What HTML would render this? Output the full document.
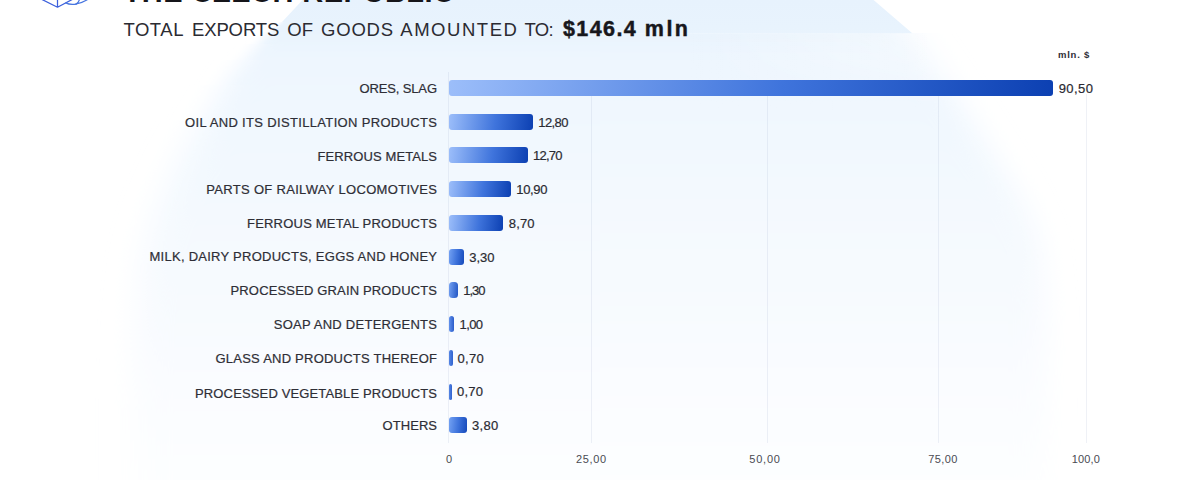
<!DOCTYPE html>
<html lang="en">
<head>
<meta charset="utf-8">
<title>The Czech Republic - exports of goods</title>
<style>
html,body{margin:0;padding:0;background:#fff;}
body{width:1200px;height:480px;position:relative;overflow:hidden;font-family:"Liberation Sans",sans-serif;color:#2e2e36;}
#bg{position:absolute;left:0;top:0;width:1200px;height:480px;}
.t{position:absolute;white-space:nowrap;line-height:1;margin:0;font-weight:normal;}
.lab{font-size:13px;color:#2e2e36;-webkit-text-stroke:0.2px #2e2e36;}
.val{font-size:13px;color:#2a2a31;-webkit-text-stroke:0.2px #2a2a31;}
.ax{font-size:11px;color:#4a4a52;}
.h1{font-size:29px;font-weight:bold;color:#15151a;}
.subline{margin:0;position:absolute;left:0;top:0;}
.sub{font-size:18.5px;color:#2b2b32;}
.amt{font-size:21.5px;font-weight:bold;color:#17171c;-webkit-text-stroke:0.45px #17171c;}
.unit{font-size:9.5px;font-weight:bold;color:#2e2e36;}
.bar{position:absolute;left:448.5px;height:16px;border-radius:3px;background:linear-gradient(97deg,#9cbefa 0%,#3f74dc 55%,#0c40b2 100%);}
.grid{position:absolute;top:94px;width:1px;height:349px;background:rgba(150,160,195,0.15);}
</style>
</head>
<body>
<svg id="bg" viewBox="0 0 1200 480">
  <defs>
    <linearGradient id="gv" gradientUnits="userSpaceOnUse" x1="0" y1="0" x2="0" y2="480">
      <stop offset="0.0000" stop-color="#e7f2fd"/>
      <stop offset="0.0583" stop-color="#e8f3fd"/>
      <stop offset="0.1250" stop-color="#eef6fe"/>
      <stop offset="0.2708" stop-color="#f1f8fe"/>
      <stop offset="0.6250" stop-color="#f7fafe"/>
      <stop offset="0.8750" stop-color="#fbfdff"/>
      <stop offset="1.0000" stop-color="#fdfeff"/>
    </linearGradient>
    <filter id="b1_5" filterUnits="userSpaceOnUse" x="-100" y="-300" width="1400" height="1000"><feGaussianBlur stdDeviation="1.5"/></filter>
    <filter id="b4" filterUnits="userSpaceOnUse" x="-100" y="-300" width="1400" height="1000"><feGaussianBlur stdDeviation="4"/></filter>
    <filter id="b7" filterUnits="userSpaceOnUse" x="-100" y="-300" width="1400" height="1000"><feGaussianBlur stdDeviation="7"/></filter>
    <filter id="b10" filterUnits="userSpaceOnUse" x="-100" y="-300" width="1400" height="1000"><feGaussianBlur stdDeviation="10"/></filter>
    <filter id="b13" filterUnits="userSpaceOnUse" x="-100" y="-300" width="1400" height="1000"><feGaussianBlur stdDeviation="13"/></filter>
    <filter id="b14" filterUnits="userSpaceOnUse" x="-100" y="-300" width="1400" height="1000"><feGaussianBlur stdDeviation="14"/></filter>
    <filter id="b16" filterUnits="userSpaceOnUse" x="-100" y="-300" width="1400" height="1000"><feGaussianBlur stdDeviation="16"/></filter>
    <clipPath id="cl0"><rect x="0" y="-5" width="600" height="27"/></clipPath>
    <clipPath id="cl1"><rect x="0" y="22" width="600" height="10"/></clipPath>
    <clipPath id="cl2"><rect x="0" y="32" width="600" height="12"/></clipPath>
    <clipPath id="cl3"><rect x="0" y="44" width="600" height="16"/></clipPath>
    <clipPath id="cl4"><rect x="0" y="60" width="600" height="25"/></clipPath>
    <clipPath id="cl5"><rect x="0" y="85" width="600" height="35"/></clipPath>
    <clipPath id="cl6"><rect x="0" y="120" width="600" height="370"/></clipPath>
    <clipPath id="cr0"><rect x="600" y="-5" width="600" height="38.3"/></clipPath>
    <clipPath id="cr1"><rect x="600" y="33.3" width="600" height="456.7"/></clipPath>
    <linearGradient id="ovh" gradientUnits="userSpaceOnUse" x1="690" y1="0" x2="930" y2="0"><stop offset="0" stop-color="#fff" stop-opacity="0"/><stop offset="1" stop-color="#fff" stop-opacity="0.42"/></linearGradient>
    <linearGradient id="ovv" gradientUnits="userSpaceOnUse" x1="0" y1="33.3" x2="0" y2="110"><stop offset="0" stop-color="#fff" stop-opacity="1"/><stop offset="0.35" stop-color="#fff" stop-opacity="0.8"/><stop offset="1" stop-color="#fff" stop-opacity="0"/></linearGradient>
    <mask id="ovm" maskUnits="userSpaceOnUse" x="600" y="33.3" width="600" height="80"><rect x="600" y="33.3" width="600" height="80" fill="url(#ovv)"/></mask>
  </defs>
  <g clip-path="url(#cl0)"><polygon fill="url(#gv)" points="800,-200.5 503,-200.5 303,-0.5 282,22 260,42 227,80 200,125 175,170 155,215 142,262 136,320 134,400 134,600 800,600"/></g>
  <g clip-path="url(#cl1)"><polygon filter="url(#b1_5)" fill="url(#gv)" points="800,-200.5 503,-200.5 303,-0.5 282,22 260,42 227,80 200,125 175,170 155,215 142,262 136,320 134,400 134,600 800,600"/></g>
  <g clip-path="url(#cl2)"><polygon filter="url(#b4)" fill="url(#gv)" points="800,-200.5 503,-200.5 303,-0.5 282,22 260,42 227,80 200,125 175,170 155,215 142,262 136,320 134,400 134,600 800,600"/></g>
  <g clip-path="url(#cl3)"><polygon filter="url(#b7)" fill="url(#gv)" points="800,-200.5 503,-200.5 303,-0.5 282,22 260,42 227,80 200,125 175,170 155,215 142,262 136,320 134,400 134,600 800,600"/></g>
  <g clip-path="url(#cl4)"><polygon filter="url(#b10)" fill="url(#gv)" points="800,-200.5 503,-200.5 303,-0.5 282,22 260,42 227,80 200,125 175,170 155,215 142,262 136,320 134,400 134,600 800,600"/></g>
  <g clip-path="url(#cl5)"><polygon filter="url(#b13)" fill="url(#gv)" points="800,-200.5 503,-200.5 303,-0.5 282,22 260,42 227,80 200,125 175,170 155,215 142,262 136,320 134,400 134,600 800,600"/></g>
  <g clip-path="url(#cl6)"><polygon filter="url(#b16)" fill="url(#gv)" points="800,-200.5 503,-200.5 303,-0.5 282,22 260,42 227,80 200,125 175,170 155,215 142,262 136,320 134,400 134,600 800,600"/></g>
  <g clip-path="url(#cr0)"><polygon fill="url(#gv)" points="400,-200.5 643,-200.5 873,-0.5 912,33 933,62 952,90 990,150 1022,200 1040,240 1046,300 1048,600 400,600"/></g>
  <g clip-path="url(#cr1)"><polygon filter="url(#b14)" fill="url(#gv)" points="400,-200.5 643,-200.5 873,-0.5 912,33 933,62 952,90 990,150 1022,200 1040,240 1046,300 1048,600 400,600"/></g>
  <rect x="690" y="33.3" width="510" height="77" fill="url(#ovh)" mask="url(#ovm)"/>
</svg>

<svg style="position:absolute;left:36px;top:0" width="60" height="12" viewBox="36 0 60 12" fill="none" stroke="#3b5fdc" stroke-width="1.25" stroke-linecap="round" stroke-linejoin="round">
  <path d="M42.4 -0.3 L57.5 7.2 L71.8 -0.3 M57.5 7.2 V-0.3"/>
  <path stroke="#4574e0" d="M65.8 2.9 C69.5 4.9 78 5.6 87.2 -0.3"/>
  <path stroke="#4574e0" d="M75.8 4.4 C77.6 3.3 78.9 1.6 79.4 -0.3"/>
</svg>

<div class="grid" style="left:448px;top:72px;height:371px"></div>
<div class="grid" style="left:591px"></div>
<div class="grid" style="left:767px"></div>
<div class="grid" style="left:938px"></div>
<div class="grid" style="left:1086px"></div>
<div class="bar" style="top:80.00px;width:604.5px;"></div>
<div class="bar" style="top:113.72px;width:84.5px;"></div>
<div class="bar" style="top:147.45px;width:79.0px;"></div>
<div class="bar" style="top:181.18px;width:62.0px;"></div>
<div class="bar" style="top:214.90px;width:54.5px;"></div>
<div class="bar" style="top:248.62px;width:15.2px;background:linear-gradient(97deg,#74a2f3 0%,#3f74dc 50%,#164aba 100%);"></div>
<div class="bar" style="top:282.35px;width:9.0px;background:linear-gradient(95deg,#74a1f2,#2256c4);border-radius:3.5px;"></div>
<div class="bar" style="top:316.08px;width:5.8px;background:linear-gradient(90deg,#6292ec,#2a5cca);border-radius:2.5px;"></div>
<div class="bar" style="top:349.80px;width:4.0px;background:linear-gradient(90deg,#5586e4,#3062cf);border-radius:2px;"></div>
<div class="bar" style="top:383.53px;width:3.5px;background:linear-gradient(90deg,#5586e4,#3062cf);border-radius:2px;"></div>
<div class="bar" style="top:417.25px;width:18.5px;background:linear-gradient(97deg,#74a2f3 0%,#3f74dc 50%,#164aba 100%);"></div>
<h1 class="t h1" style="left:123.50px;top:-21.95px;letter-spacing:0.486px;">THE CZECH REPUBLIC</h1>
<p class="subline">
<span class="t sub" style="left:123.40px;top:21.34px;letter-spacing:0.545px;">TOTAL</span>
<span class="t sub" style="left:191.90px;top:21.34px;letter-spacing:-0.096px;">EXPORTS</span>
<span class="t sub" style="left:287.25px;top:21.34px;letter-spacing:0.147px;">OF</span>
<span class="t sub" style="left:321.00px;top:21.34px;letter-spacing:0.806px;">GOODS</span>
<span class="t sub" style="left:400.25px;top:21.34px;letter-spacing:1.539px;">AMOUNTED</span>
<span class="t sub" style="left:524.40px;top:21.34px;letter-spacing:-0.575px;">TO:</span>
<b class="t amt" style="left:563.00px;top:19.30px;letter-spacing:1.387px;">$146.4</b>
<b class="t amt" style="left:644.80px;top:19.30px;letter-spacing:2.483px;">mln</b>
</p>
<div class="t unit" style="left:1058.00px;top:49.86px;letter-spacing:0.769px;">mln. $</div>
<div class="t lab" style="left:359.50px;top:82.00px;letter-spacing:-0.139px;">ORES, SLAG</div>
<div class="t lab" style="left:185.00px;top:115.80px;letter-spacing:0.335px;">OIL AND ITS DISTILLATION PRODUCTS</div>
<div class="t lab" style="left:317.50px;top:149.50px;letter-spacing:0.099px;">FERROUS METALS</div>
<div class="t lab" style="left:206.25px;top:182.90px;letter-spacing:0.315px;">PARTS OF RAILWAY LOCOMOTIVES</div>
<div class="t lab" style="left:247.00px;top:216.60px;letter-spacing:0.208px;">FERROUS METAL PRODUCTS</div>
<div class="t lab" style="left:149.50px;top:250.30px;letter-spacing:0.261px;">MILK, DAIRY PRODUCTS, EGGS AND HONEY</div>
<div class="t lab" style="left:230.50px;top:284.00px;letter-spacing:0.153px;">PROCESSED GRAIN PRODUCTS</div>
<div class="t lab" style="left:273.75px;top:317.80px;letter-spacing:0.253px;">SOAP AND DETERGENTS</div>
<div class="t lab" style="left:215.50px;top:351.50px;letter-spacing:0.230px;">GLASS AND PRODUCTS THEREOF</div>
<div class="t lab" style="left:195.00px;top:386.60px;letter-spacing:0.142px;">PROCESSED VEGETABLE PRODUCTS</div>
<div class="t lab" style="left:382.50px;top:419.00px;letter-spacing:0.066px;">OTHERS</div>
<div class="t val" style="left:1058.70px;top:81.90px;letter-spacing:0.413px;">90,50</div>
<div class="t val" style="left:538.25px;top:115.62px;letter-spacing:-0.574px;">12,80</div>
<div class="t val" style="left:533.00px;top:149.35px;letter-spacing:-0.762px;">12,70</div>
<div class="t val" style="left:516.25px;top:183.08px;letter-spacing:-0.324px;">10,90</div>
<div class="t val" style="left:508.75px;top:216.80px;letter-spacing:0.146px;">8,70</div>
<div class="t val" style="left:469.25px;top:250.52px;letter-spacing:-0.021px;">3,30</div>
<div class="t val" style="left:463.25px;top:284.25px;letter-spacing:-1.021px;">1,30</div>
<div class="t val" style="left:459.50px;top:317.98px;letter-spacing:-0.604px;">1,00</div>
<div class="t val" style="left:457.50px;top:351.70px;letter-spacing:0.312px;">0,70</div>
<div class="t val" style="left:457.00px;top:385.43px;letter-spacing:0.229px;">0,70</div>
<div class="t val" style="left:472.00px;top:419.15px;letter-spacing:0.312px;">3,80</div>
<div class="t ax" style="left:446.00px;top:453.99px;letter-spacing:0.000px;">0</div>
<div class="t ax" style="left:576.00px;top:453.99px;letter-spacing:0.617px;">25,00</div>
<div class="t ax" style="left:749.30px;top:453.99px;letter-spacing:0.792px;">50,00</div>
<div class="t ax" style="left:928.30px;top:453.99px;letter-spacing:0.367px;">75,00</div>
<div class="t ax" style="left:1071.70px;top:453.99px;letter-spacing:0.192px;">100,0</div>
</body>
</html>
